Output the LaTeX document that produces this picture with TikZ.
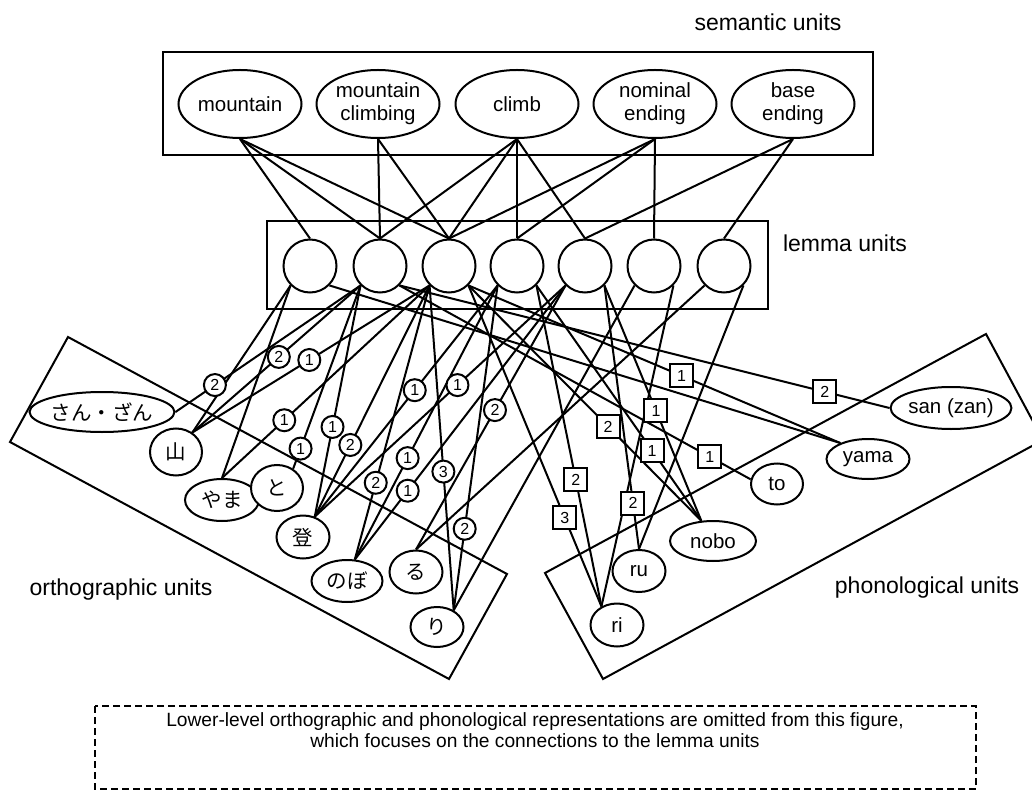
\documentclass[tikz,border=0pt]{standalone}
\usepackage{fontspec}
\setmainfont{Liberation Sans}
\newfontfamily\jpfont{Noto Sans CJK JP}
\usetikzlibrary{shapes.geometric}

\tikzset{
  sem/.style={draw,ellipse,minimum width=123pt,minimum height=68pt,inner sep=0pt,align=center,font=\fontsize{20.5}{23}\selectfont},
  lem/.style={draw,circle,minimum size=53pt,inner sep=0pt},
  unit/.style={draw,ellipse,fill=white,inner sep=0pt,font=\fontsize{20.5}{23}\selectfont},
  onum/.style={draw,circle,fill=white,minimum size=22pt,inner sep=0pt,font=\fontsize{16}{16}\selectfont},
  pnum/.style={draw,rectangle,fill=white,minimum size=23pt,inner sep=0pt,font=\fontsize{16}{16}\selectfont},
  lbl/.style={font=\fontsize{23}{26}\selectfont}
}

\def\orthlinks{c2.225/sanzan.east/.787/2, c2.225/yamak.50/.486/2, c2.225/tok.50/.89/1,
  c2.225/nobk.60/.612/1, c3.225/yamak.50/.507/1, c3.225/yamah.north/.70/1,
  c3.225/nobk.60/.69/2, c3.225/noboh.70/.72/2, c3.225/rik.45/.573/3,
  c4.225/nobk.60/.453/1, c4.225/noboh.70/.63/1, c4.225/rik.45/.749/2,
  c5.225/nobk.60/.431/1, c5.225/noboh.70/.749/1, c5.225/ruk.north/.472/2}
\def\phonlinks{c2.315/sanp.west/.868/2, c2.315/top.170/.884/1, c3.315/yamap.150/.573/1,
  c3.315/nobop.120/.60/2, c3.315/rip.130/.724/3, c4.315/nobop.120/.702/1,
  c4.315/rip.130/.606/2, c5.315/nobop.120/.532/1, c5.315/rup.north/.826/2}

\begin{document}
\begin{tikzpicture}[x=1pt,y=-1pt,line width=2pt]
  \path[use as bounding box] (0,0) rectangle (1032,791);
  \clip (0,0) rectangle (1032,791);

  % semantic units
  \node[lbl] (semlbl) at (768,22) {semantic units};
  \draw (163,52) rectangle (873,155);
  \node[sem] (s1) at (240,104) {mountain};
  \node[sem] (s2) at (378,104) {mountain\\climbing};
  \node[sem] (s3) at (517,104) {climb};
  \node[sem] (s4) at (655,104) {nominal\\ending};
  \node[sem] (s5) at (793,104) {base\\ending};

  % lemma units
  \draw (267,221) rectangle (768,309);
  \node[lbl] (lemlbl) at (845,243) {lemma units};
  \foreach \i/\x in {1/310,2/380,3/449,4/517,5/585,6/654,7/724}
    \node[lem] (c\i) at (\x,266) {};

  % orthographic units
  \draw (68,337) -- (507,574) -- (449,679) -- (10,442) -- cycle;
  \node[lbl] (ortlbl) at (121,590) {orthographic units};
  \node[unit,minimum width=137pt,minimum height=40pt] (sanzan) at (102,412) {\jpfont さん・ざん};
  \node[unit,minimum width=52pt,minimum height=47pt] (yamak) at (176,452) {\jpfont 山};
  \node[unit,minimum width=74pt,minimum height=42pt] (yamah) at (222,500) {\jpfont やま};
  \node[unit,minimum width=52pt,minimum height=46pt] (tok) at (277,488) {\jpfont と};
  \node[unit,minimum width=53pt,minimum height=43pt] (nobk) at (303,537) {\jpfont 登};
  \node[unit,minimum width=71pt,minimum height=42pt] (noboh) at (347,581) {\jpfont のぼ};
  \node[unit,minimum width=53pt,minimum height=43pt] (ruk) at (416,572) {\jpfont る};
  \node[unit,minimum width=53pt,minimum height=40pt] (rik) at (437,627) {\jpfont り};

  % phonological units
  \draw (545,573) -- (986,334) -- (1043,440) -- (603,679) -- cycle;
  \node[lbl] (phonlbl) at (927,588) {phonological units};
  \node[unit,minimum width=119pt,minimum height=42pt] (sanp) at (951,408) {san (zan)};
  \node[unit,minimum width=83pt,minimum height=40pt] (yamap) at (868,459) {yama};
  \node[unit,minimum width=52pt,minimum height=41pt] (top) at (777,484) {to};
  \node[unit,minimum width=86pt,minimum height=40pt] (nobop) at (713,541) {nobo};
  \node[unit,minimum width=53pt,minimum height=42pt] (rup) at (639,571) {ru};
  \node[unit,minimum width=53pt,minimum height=43pt] (rip) at (617,625) {ri};

  % connections
  \foreach \i/\j in {1/1,1/2,1/3,2/2,2/3,3/2,3/3,3/4,3/5,4/3,4/4,4/6,5/5,5/7}
    \draw (s\i.south) -- (c\j.north);
  \draw (c1.225) -- (yamak.50);
  \draw (c1.225) -- (yamah.north);
  \draw (c1.315) -- (yamap.150);
  \draw (c6.225) -- (rik.45);
  \draw (c6.315) -- (rip.130);
  \draw (c7.225) -- (ruk.north);
  \draw (c7.315) -- (rup.north);
  \foreach \fr/\tg/\ps/\nr in \orthlinks \draw (\fr) -- (\tg);
  \foreach \fr/\tg/\ps/\nr in \phonlinks \draw (\fr) -- (\tg);
  \foreach \fr/\tg/\ps/\nr in \orthlinks \path (\fr) -- (\tg) node[onum,pos=\ps] {\nr};
  \foreach \fr/\tg/\ps/\nr in \phonlinks \path (\fr) -- (\tg) node[pnum,pos=\ps] {\nr};

  % note
  \draw[dash pattern=on 7pt off 4pt,line width=1.5pt] (95,706) rectangle (976,789);
  \node[font=\fontsize{19.2}{21.5}\selectfont,align=center] (note) at (535,730)
    {Lower-level orthographic and phonological representations are omitted from this figure,\\
     which focuses on the connections to the lemma units};
\end{tikzpicture}
\end{document}
